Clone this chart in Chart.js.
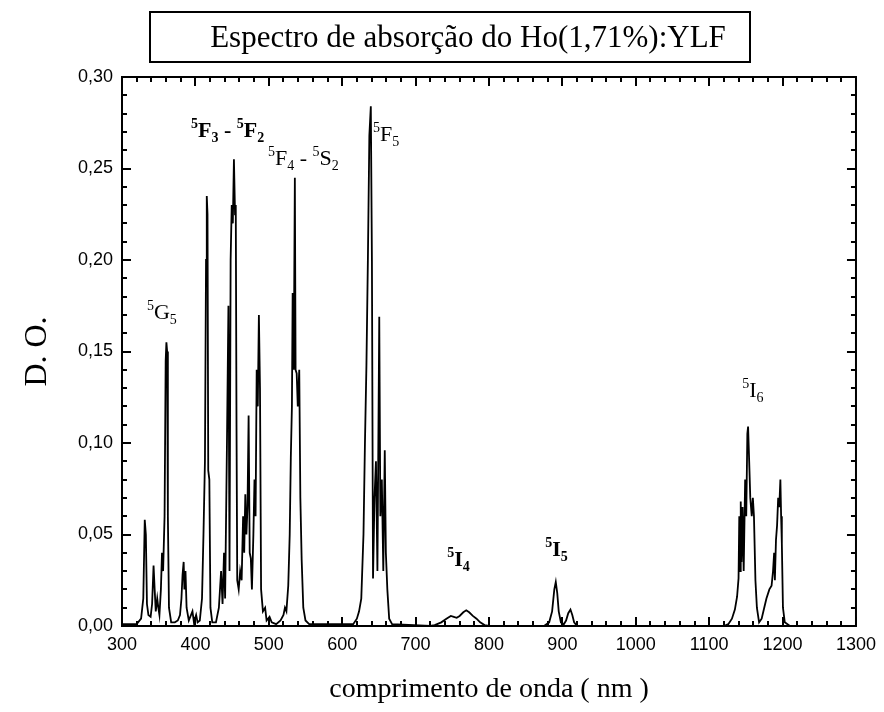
<!DOCTYPE html>
<html>
<head>
<meta charset="utf-8">
<script src="https://cdn.jsdelivr.net/npm/chart.js@4.4.0/dist/chart.umd.min.js"></script>
<style>
  html, body { margin: 0; padding: 0; background: #fff; }
</style>
</head>
<body>
<canvas id="espectro" width="884" height="712"></canvas>
<script>
// comprimento de onda (nm) e densidade optica
const wavelength = [
  300, 320, 326, 329, 331, 332.5, 334, 336, 339, 341, 343, 344.5, 346, 348, 349.5, 351, 353, 354.5, 356, 358,
  359.5, 360.5, 361.5, 362.5, 364, 367, 372, 376, 379, 381, 382.5, 384, 385, 386.5, 388, 391, 396, 398, 401, 403,
  406, 409, 411, 413, 414.5, 415.5, 416.5, 417.5, 419, 420.5, 423, 428, 432, 435, 437, 439, 440.5, 443, 445, 446.5,
  448, 449.5, 451, 452.5, 454, 455, 456, 457, 459, 461, 463, 465, 466.5, 468, 469.5, 471, 472.5, 474, 475.5, 477,
  479, 480.5, 482, 483.5, 485, 486.5, 488, 489.5, 492, 495, 497, 501, 504, 510, 516, 520, 522, 524, 526.5, 528.5,
  530, 531.5, 532.5, 534, 535.5, 536.5, 538, 539.5, 541.5, 543, 544.8, 547, 550, 555, 600, 615, 620, 623, 626, 629,
  631, 633, 635, 637, 639, 640.5, 642, 644, 646, 648, 650.5, 652, 654, 656, 658, 659.5, 661.5, 664, 668, 720,
  726, 735, 742, 748, 752, 756, 760, 765, 769, 773, 778, 783, 788, 794, 800, 875, 882, 886, 889, 891,
  893, 895, 898, 902, 905, 908, 911, 913.5, 916, 920, 1120, 1126, 1131, 1135, 1138, 1140, 1141, 1142, 1143, 1144,
  1145.5, 1147, 1149, 1150.5, 1152, 1153, 1154.5, 1156, 1158, 1159.5, 1161, 1163, 1165, 1168, 1171.5, 1175, 1178, 1182, 1185, 1187,
  1188.5, 1189.5, 1191, 1192.5, 1194, 1195.5, 1197, 1198, 1199, 1200.5, 1203, 1210, 1300
];
const opticalDensity = [
  0.001, 0.001, 0.004, 0.015, 0.058, 0.05, 0.012, 0.006, 0.005, 0.012, 0.033, 0.02, 0.008, 0.015, 0.01, 0.006, 0.02, 0.04, 0.03, 0.06,
  0.145, 0.155, 0.15, 0.06, 0.01, 0.002, 0.002, 0.003, 0.006, 0.015, 0.028, 0.035, 0.02, 0.03, 0.01, 0.003, 0.008, 0.002, 0.006, 0.002,
  0.003, 0.015, 0.05, 0.09, 0.2, 0.235, 0.225, 0.085, 0.08, 0.01, 0.002, 0.002, 0.01, 0.03, 0.012, 0.04, 0.015, 0.1, 0.175, 0.03,
  0.2, 0.23, 0.22, 0.255, 0.225, 0.23, 0.11, 0.025, 0.02, 0.03, 0.025, 0.06, 0.04, 0.072, 0.05, 0.065, 0.115, 0.04, 0.037, 0.02,
  0.05, 0.08, 0.06, 0.14, 0.12, 0.17, 0.13, 0.02, 0.008, 0.01, 0.003, 0.005, 0.002, 0.001, 0.003, 0.006, 0.01, 0.008, 0.022, 0.05,
  0.092, 0.12, 0.182, 0.14, 0.245, 0.14, 0.138, 0.12, 0.14, 0.07, 0.036, 0.01, 0.003, 0.001, 0.001, 0.001, 0.004, 0.008, 0.015, 0.05,
  0.1, 0.142, 0.2, 0.268, 0.284, 0.2, 0.026, 0.07, 0.09, 0.03, 0.169, 0.06, 0.08, 0.03, 0.096, 0.04, 0.02, 0.004, 0.001, 0,
  0.0005, 0.002, 0.004, 0.0055, 0.005, 0.0045, 0.0055, 0.0075, 0.0086, 0.0075, 0.0055, 0.004, 0.002, 0.0005, 0, 0, 0.002, 0.008, 0.02, 0.024,
  0.018, 0.008, 0.002, 0.001, 0.003, 0.007, 0.009, 0.006, 0.002, 0, 0, 0.001, 0.004, 0.009, 0.016, 0.026, 0.06, 0.03, 0.068, 0.035,
  0.065, 0.03, 0.08, 0.06, 0.105, 0.109, 0.09, 0.07, 0.06, 0.07, 0.06, 0.025, 0.01, 0.002, 0.004, 0.01, 0.015, 0.02, 0.022, 0.03,
  0.04, 0.025, 0.047, 0.055, 0.07, 0.065, 0.08, 0.06, 0.045, 0.01, 0.002, 0, 0
];

const xTickValues = [300, 400, 500, 600, 700, 800, 900, 1000, 1100, 1200, 1300];
const yTickLabels = ['0,00', '0,05', '0,10', '0,15', '0,20', '0,25', '0,30'];

// transicoes: ^ = sobrescrito, _ = subscrito
const bandNames = ['^5G_5', '^5F_3 - ^5F_2', '^5F_4 - ^5S_2', '^5F_5', '^5I_4', '^5I_5', '^5I_6'];
const bandWavelength = [334, 394, 499, 642, 743, 876.5, 1145];
const bandOD = [0.168, 0.267, 0.252, 0.265, 0.033, 0.038, 0.125];
const bandBold = [false, true, false, false, true, true, false];

const serif = '"Liberation Serif", "Times New Roman", serif';
const sans = '"Liberation Sans", Arial, sans-serif';

function drawTerm(ctx, text, x, y, bold) {
  const w = bold ? 'bold ' : '';
  let i = 0;
  while (i < text.length) {
    let ch = text[i], size = 22, dy = 0;
    if (ch === '^' || ch === '_') {
      dy = ch === '^' ? -9 : 5;
      size = 14;
      ch = text[++i];
    }
    ctx.font = w + size + 'px ' + serif;
    ctx.fillText(ch, x, y + dy);
    x += ctx.measureText(ch).width;
    i++;
  }
}

const framePlugin = {
  id: 'framePlugin',
  afterDraw(chart) {
    const {ctx, chartArea: a, scales: {x, y}} = chart;
    ctx.save();
    ctx.strokeStyle = '#000';
    ctx.lineWidth = 2;
    ctx.strokeRect(a.left, a.top, a.right - a.left, a.bottom - a.top);

    ctx.beginPath();
    for (let v = 300; v <= 1300; v += 20) {
      const px = Math.round(x.getPixelForValue(v));
      const len = v % 100 === 0 ? 9 : 5;
      ctx.moveTo(px, a.bottom); ctx.lineTo(px, a.bottom - len);
      ctx.moveTo(px, a.top); ctx.lineTo(px, a.top + len);
    }
    for (let i = 0; i <= 30; i++) {
      const py = Math.round(y.getPixelForValue(i / 100));
      const len = i % 5 === 0 ? 9 : 5;
      ctx.moveTo(a.left, py); ctx.lineTo(a.left + len, py);
      ctx.moveTo(a.right, py); ctx.lineTo(a.right - len, py);
    }
    ctx.stroke();

    // caixa do titulo
    ctx.strokeRect(150, 12, 600, 50);
    ctx.fillStyle = '#000';
    ctx.textAlign = 'center';
    ctx.textBaseline = 'middle';
    ctx.font = '31px ' + serif;
    ctx.fillText('Espectro de absorção do Ho(1,71%):YLF', 468, 39);

    ctx.textAlign = 'left';
    ctx.textBaseline = 'alphabetic';
    bandNames.forEach((name, k) => {
      drawTerm(ctx, name, x.getPixelForValue(bandWavelength[k]), y.getPixelForValue(bandOD[k]), bandBold[k]);
    });
    ctx.restore();
  }
};

new Chart(document.getElementById('espectro'), {
  type: 'line',
  data: {
    datasets: [{
      data: wavelength.map((w, i) => ({x: w, y: opticalDensity[i]})),
      borderColor: '#000',
      borderWidth: 1.8,
      pointRadius: 0,
      tension: 0,
      fill: false
    }]
  },
  options: {
    responsive: false,
    animation: false,
    layout: { padding: { top: 77, right: 27, bottom: 0, left: 0 } },
    plugins: { legend: { display: false }, tooltip: { enabled: false } },
    scales: {
      x: {
        type: 'linear',
        min: 300,
        max: 1300,
        afterBuildTicks: (s) => { s.ticks = xTickValues.map(v => ({value: v})); },
        afterFit: (s) => { s.height = 86; },
        grid: { display: false, drawTicks: false },
        border: { display: false },
        ticks: { color: '#000', padding: 8, maxRotation: 0, callback: (v) => String(v),
                 font: { family: sans, size: 18 } },
        title: { display: true, text: 'comprimento de onda ( nm )', color: '#000', padding: { top: 0, bottom: 6 },
                 font: { family: serif, size: 28 } }
      },
      y: {
        min: 0,
        max: 0.30,
        afterBuildTicks: (s) => { s.ticks = yTickLabels.map((t, i) => ({value: i * 0.05})); },
        afterFit: (s) => { s.width = 122; },
        grid: { display: false, drawTicks: false },
        border: { display: false },
        ticks: { color: '#000', padding: 9, callback: (v, i) => yTickLabels[i],
                 font: { family: sans, size: 18 } },
        title: { display: true, text: 'D. O.', color: '#000', padding: { top: 18, bottom: 0 },
                 font: { family: serif, size: 32 } }
      }
    }
  },
  plugins: [framePlugin]
});
</script>
</body>
</html>
